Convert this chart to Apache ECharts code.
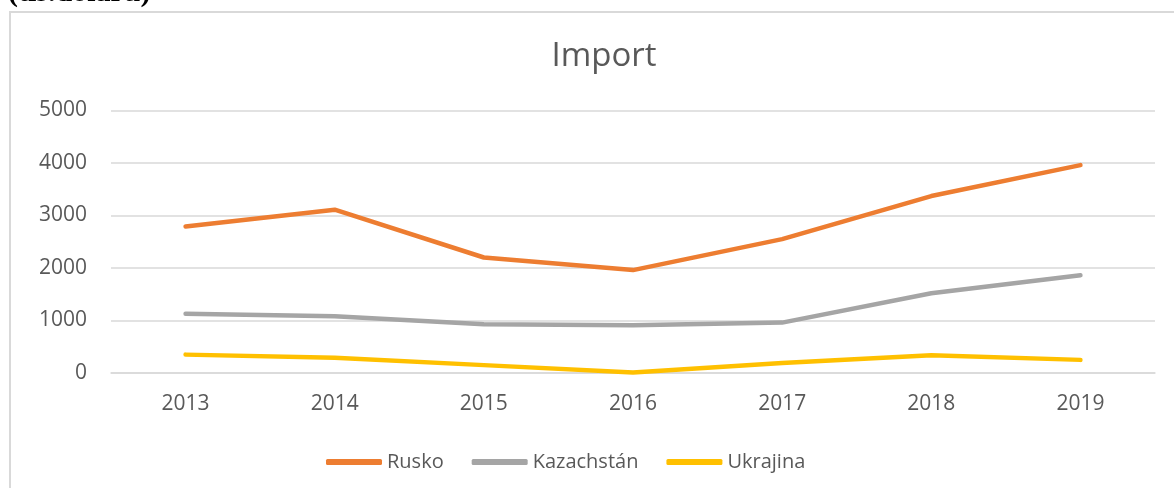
<!DOCTYPE html>
<html>
<head>
<meta charset="utf-8">
<script src="https://cdn.jsdelivr.net/npm/echarts@6/dist/echarts.min.js"></script>
<style>
  html, body { margin: 0; padding: 0; background: #fff; }
  #chart { width: 1174px; height: 488px; }
</style>
</head>
<body>
<div id="chart"></div>
<script>
// roky
const years = ["2013", "2014", "2015", "2016", "2017", "2018", "2019"];
// import (tis. dolarů)
const rusko = [2790, 3110, 2200, 1960, 2550, 3370, 3960];
const kazachstan = [1130, 1080, 930, 910, 960, 1520, 1860];
const ukrajina = [350, 290, 150, 10, 190, 340, 250];
const yTicks = [0, 1000, 2000, 3000, 4000, 5000];

const font = "'Open Sans', 'Noto Sans', sans-serif";
const txt = "#595959";

function line(name, data, color) {
  return {
    name: name,
    type: "line",
    data: data,
    showSymbol: false,
    symbol: "none",
    lineStyle: { color: color, width: 4.5, cap: "round", join: "round" },
    itemStyle: { color: color },
  };
}

const chart = echarts.init(document.getElementById("chart"));
chart.setOption({
  animation: false,
  backgroundColor: "#fff",
  title: {
    text: "Import",
    left: 599,
    textAlign: "center",
    top: 35,
    textStyle: { fontFamily: font, fontSize: 33, fontWeight: "normal", color: txt },
  },
  graphic: [
    {
      type: "rect",
      shape: { x: 10, y: 12, width: 1220, height: 520 },
      style: { fill: "none", stroke: "#d9d9d9", lineWidth: 2 },
      silent: true,
    },
    {
      type: "text",
      left: 8,
      top: -22,
      style: {
        text: "(tis.dolarů)",
        font: "bold 30px 'Liberation Serif', serif",
        fill: "#000",
      },
    },
  ],
  legend: {
    top: 447,
    left: 321,
    itemWidth: 56,
    itemHeight: 6,
    itemGap: 28,
    icon: "roundRect",
    textStyle: { fontFamily: font, fontSize: 20, color: txt },
    data: ["Rusko", "Kazachstán", "Ukrajina"],
  },
  grid: { left: 111, right: 19, top: 110.5, bottom: 115 },
  xAxis: {
    type: "category",
    data: years,
    boundaryGap: true,
    axisLine: { show: true, lineStyle: { color: "#d9d9d9", width: 1.5 } },
    axisTick: { show: false },
    axisLabel: { fontFamily: font, fontSize: 21, color: txt, margin: 21 },
  },
  yAxis: {
    type: "value",
    min: yTicks[0],
    max: yTicks[yTicks.length - 1],
    interval: 1000,
    axisLine: { show: false },
    axisTick: { show: false },
    splitLine: { lineStyle: { color: "#d9d9d9", width: 1.5 } },
    axisLabel: {
      fontFamily: font,
      fontSize: 21,
      color: txt,
      margin: 24,
      formatter: (v) => String(v),
    },
  },
  series: [
    line("Rusko", rusko, "#ED7D31"),
    line("Kazachstán", kazachstan, "#A5A5A5"),
    line("Ukrajina", ukrajina, "#FFC000"),
  ],
});
</script>
</body>
</html>
